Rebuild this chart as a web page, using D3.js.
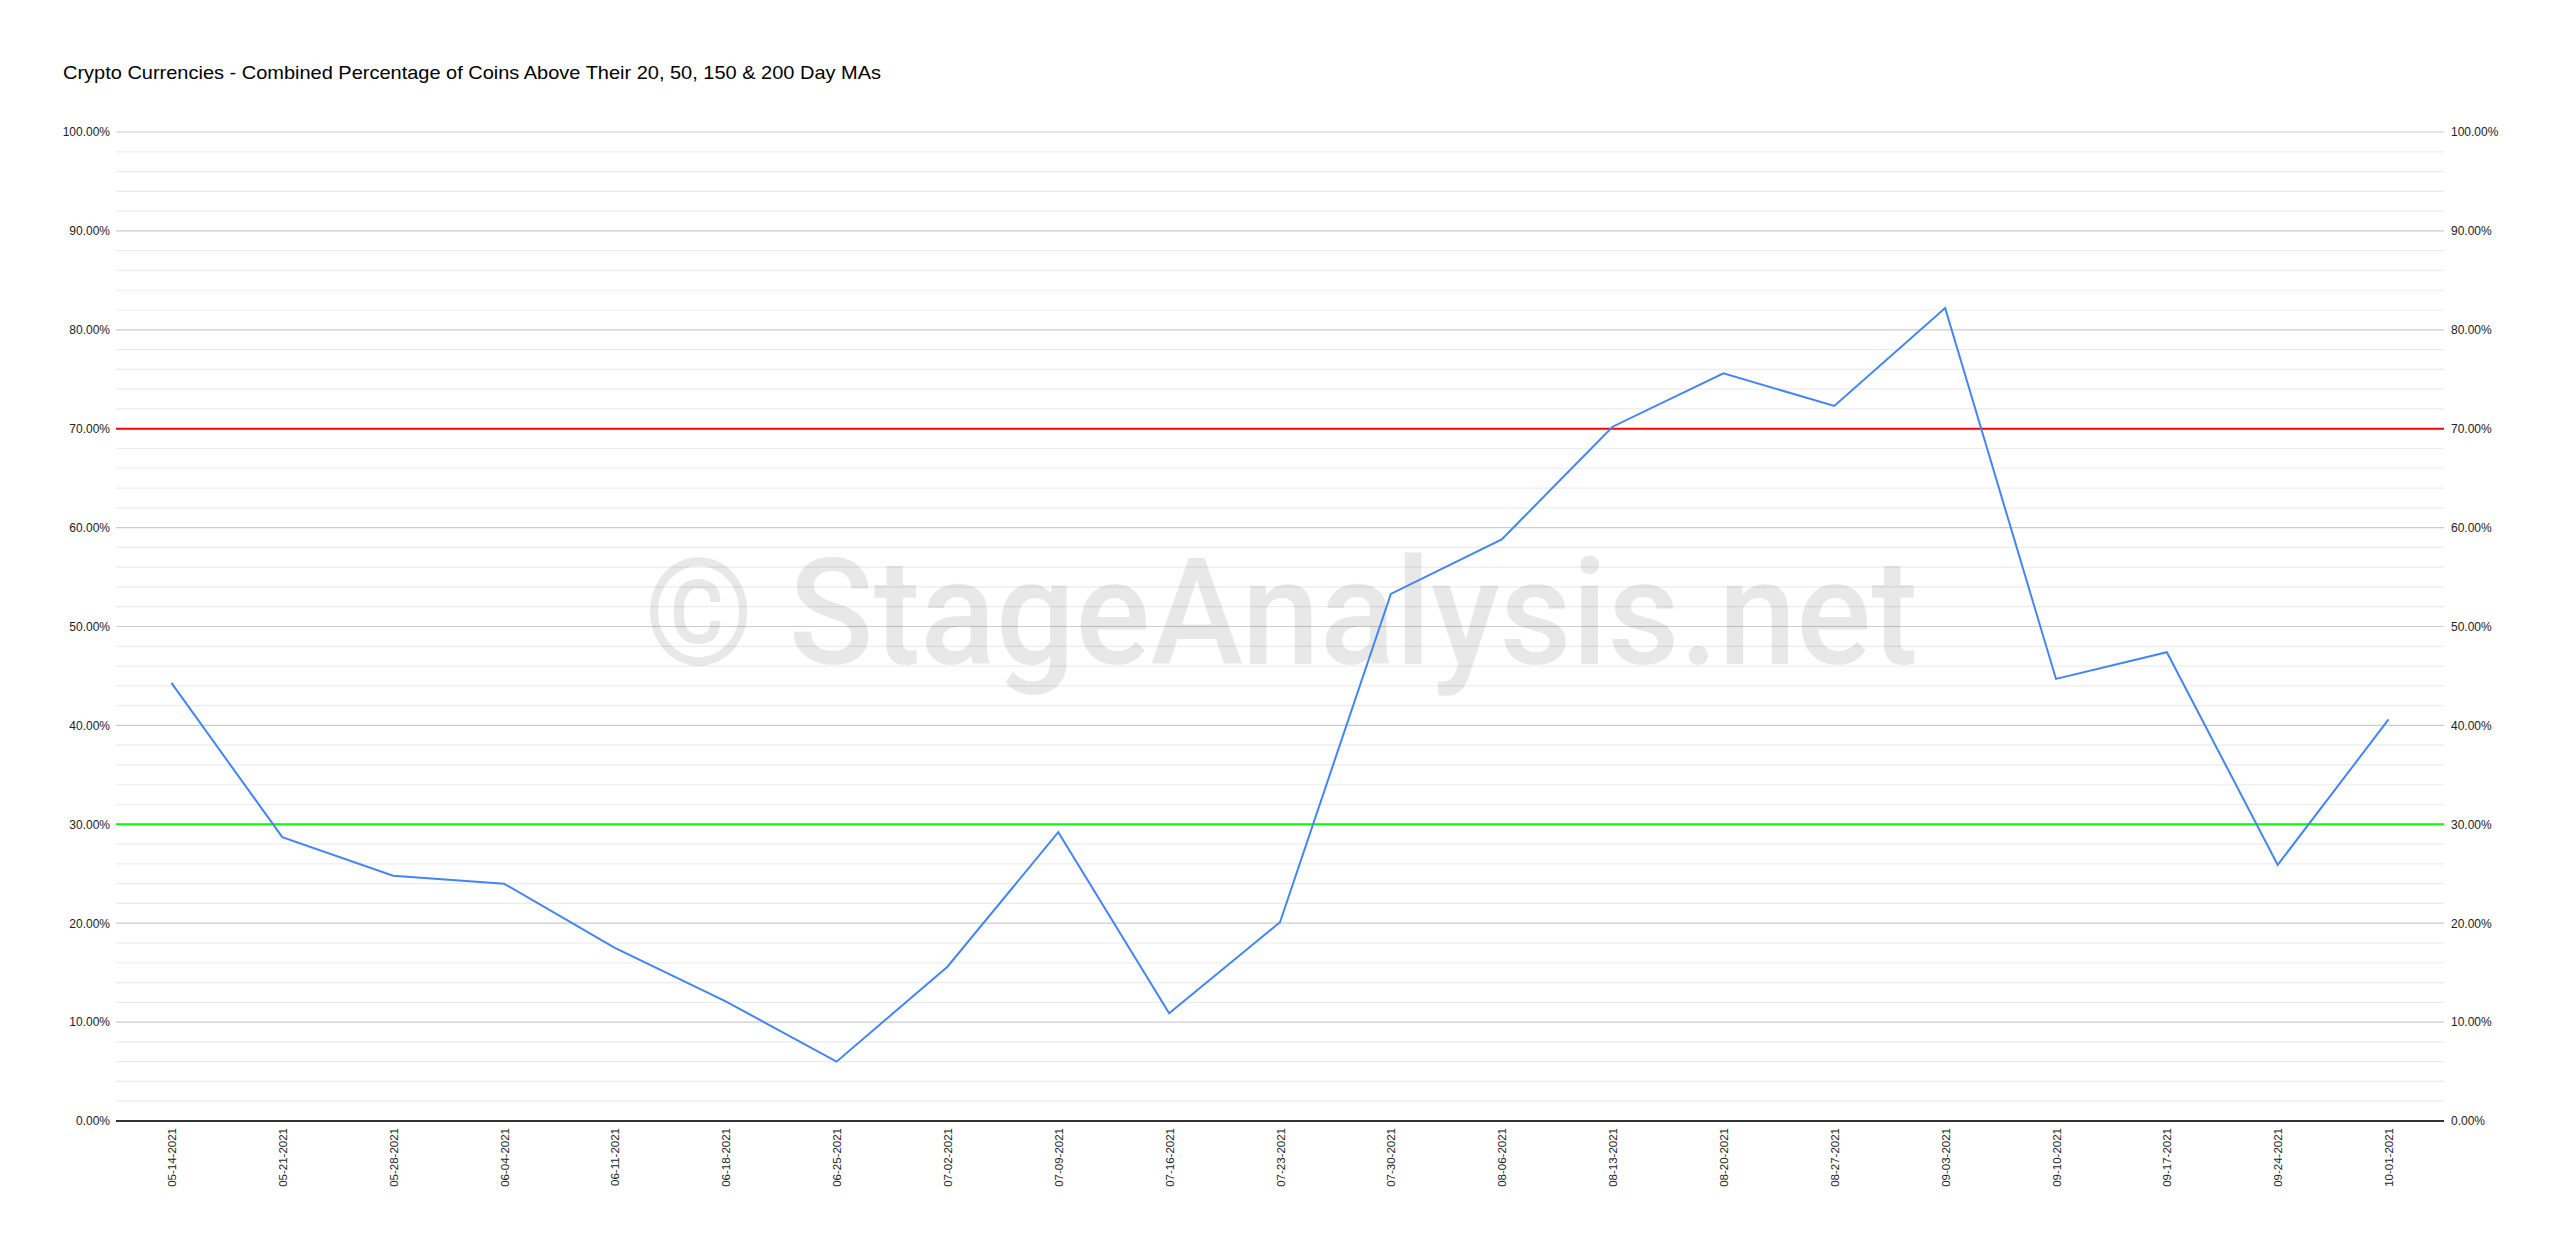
<!DOCTYPE html>
<html>
<head>
<meta charset="utf-8">
<script src="https://cdn.jsdelivr.net/npm/d3@7"></script>
<style>
  html, body { margin: 0; padding: 0; background: #fff; }
  svg { display: block; }
</style>
</head>
<body>
<svg id="chart" width="2560" height="1250"></svg>
<script>
const titleText = "Crypto Currencies - Combined Percentage of Coins Above Their 20, 50, 150 & 200 Day MAs";
const dates = ["05-14-2021","05-21-2021","05-28-2021","06-04-2021","06-11-2021","06-18-2021","06-25-2021",
  "07-02-2021","07-09-2021","07-16-2021","07-23-2021","07-30-2021","08-06-2021","08-13-2021",
  "08-20-2021","08-27-2021","09-03-2021","09-10-2021","09-17-2021","09-24-2021","10-01-2021"];
const combinedPct = [44.3, 28.7, 24.8, 24.0, 17.5, 12.1, 6.0,
  15.6, 29.2, 10.9, 20.1, 53.3, 58.8, 70.2,
  75.6, 72.3, 82.2, 44.7, 47.4, 25.9, 40.6];
const upperThreshold = 70;
const lowerThreshold = 30;
const majorTicks = [0, 10, 20, 30, 40, 50, 60, 70, 80, 90, 100];
const minorTicks = d3.range(0, 101, 2).filter(v => v % 10 !== 0);
const watermarkText = "© StageAnalysis.net";

const svg = d3.select("#chart");
const plotLeft = 116, plotRight = 2444, plotTop = 132, plotBottom = 1121;

const x = d3.scalePoint().domain(dates).range([plotLeft, plotRight]).padding(0.5);
const y = d3.scaleLinear().domain([0, 100]).range([plotBottom, plotTop]);
const fmt = v => v.toFixed(2) + "%";

// title
svg.append("text")
  .attr("x", 63).attr("y", 79)
  .attr("font-family", "Liberation Sans, Arial, sans-serif")
  .attr("font-size", 19)
  .attr("fill", "#000")
  .attr("textLength", 818).attr("lengthAdjust", "spacingAndGlyphs")
  .text(titleText);

// minor gridlines
svg.append("g").selectAll("line").data(minorTicks).join("line")
  .attr("x1", plotLeft).attr("x2", plotRight)
  .attr("y1", d => y(d)).attr("y2", d => y(d))
  .attr("stroke", "#ececec").attr("stroke-width", 1.2);

// major gridlines
svg.append("g").selectAll("line").data(majorTicks.filter(d => d !== 0)).join("line")
  .attr("x1", plotLeft).attr("x2", plotRight)
  .attr("y1", d => y(d)).attr("y2", d => y(d))
  .attr("stroke", "#cccccc").attr("stroke-width", 1.2);

// watermark
svg.append("text")
  .attr("x", 644).attr("y", 664)
  .attr("font-family", "Roboto, Liberation Sans, sans-serif")
  .attr("font-weight", 500)
  .attr("font-size", 148)
  .attr("fill", "#000").attr("fill-opacity", 0.09)
  .attr("textLength", 1274).attr("lengthAdjust", "spacingAndGlyphs")
  .text(watermarkText);

// left axis labels
const leftAxis = d3.axisLeft(y).tickValues(majorTicks).tickFormat(fmt).tickSize(0).tickPadding(6);
const gl = svg.append("g").attr("transform", `translate(${plotLeft},0)`).call(leftAxis);
gl.select(".domain").remove();
gl.selectAll("text").attr("font-family", "Liberation Sans, Arial, sans-serif").attr("font-size", 12).attr("fill", "#222");

// right axis labels
const rightAxis = d3.axisRight(y).tickValues(majorTicks).tickFormat(fmt).tickSize(0).tickPadding(7);
const gr = svg.append("g").attr("transform", `translate(${plotRight},0)`).call(rightAxis);
gr.select(".domain").remove();
gr.selectAll("text").attr("font-family", "Liberation Sans, Arial, sans-serif").attr("font-size", 12).attr("fill", "#222");

// threshold lines
svg.append("line")
  .attr("x1", plotLeft).attr("x2", plotRight)
  .attr("y1", y(upperThreshold)).attr("y2", y(upperThreshold))
  .attr("stroke", "#ff0000").attr("stroke-width", 2);
svg.append("line")
  .attr("x1", plotLeft).attr("x2", plotRight)
  .attr("y1", y(lowerThreshold)).attr("y2", y(lowerThreshold))
  .attr("stroke", "#00ff00").attr("stroke-width", 2);

// baseline
svg.append("line")
  .attr("x1", plotLeft).attr("x2", plotRight)
  .attr("y1", y(0)).attr("y2", y(0))
  .attr("stroke", "#333").attr("stroke-width", 2);

// x axis labels
const xAxis = d3.axisBottom(x).tickSize(0).tickPadding(0);
const gx = svg.append("g").attr("transform", `translate(0,${plotBottom})`).call(xAxis);
gx.select(".domain").remove();
gx.selectAll("text")
  .attr("font-family", "Liberation Sans, Arial, sans-serif")
  .attr("font-size", 11.5)
  .attr("fill", "#222")
  .attr("text-anchor", "end")
  .attr("transform", "rotate(-90)")
  .attr("x", -7).attr("y", 0).attr("dy", "0.35em");

// data line
const line = d3.line().x((d, i) => x(dates[i])).y(d => y(d));
svg.append("path")
  .datum(combinedPct)
  .attr("d", line)
  .attr("fill", "none")
  .attr("stroke", "#4285f4")
  .attr("stroke-width", 2)
  .attr("stroke-linejoin", "miter");
</script>
</body>
</html>
